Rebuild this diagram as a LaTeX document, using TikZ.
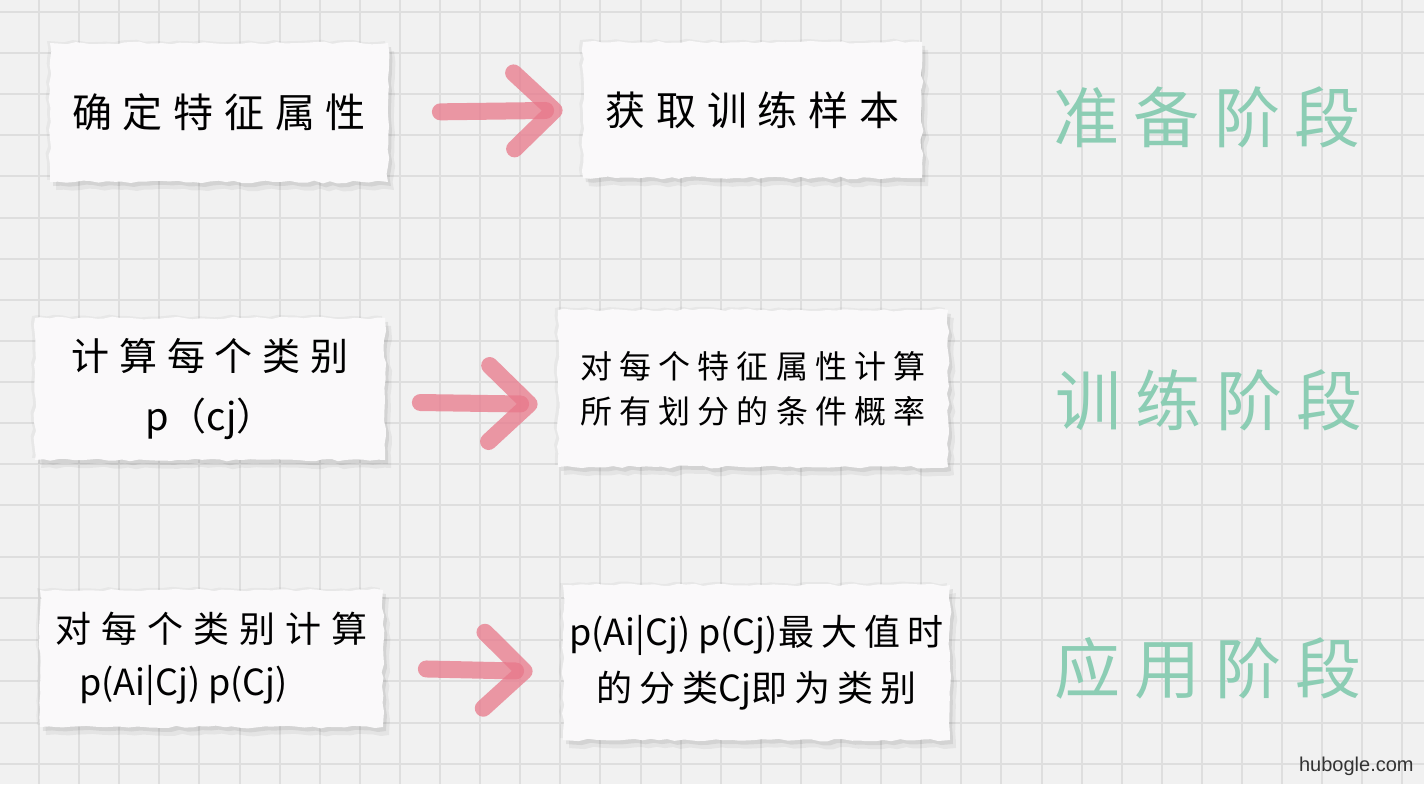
\documentclass[tikz,border=0pt]{standalone}
\usepackage{fontspec}
\newfontfamily\cjkfont{Noto Sans CJK SC}
\newfontfamily\webfont{Liberation Sans}
\usetikzlibrary{arrows.meta,decorations.pathmorphing}
\definecolor{bgcol}{RGB}{241,241,241}
\definecolor{gridcol}{RGB}{222,222,222}
\definecolor{papercol}{RGB}{250,249,250}
\definecolor{arrowcol}{RGB}{232,120,138}
\definecolor{phasecol}{RGB}{140,205,180}
\newcommand{\cjksize}[3]{\cjkfont\fontsize{#1}{#2}\selectfont\addfontfeatures{LetterSpace=#3}}
\newcommand{\lat}[1]{{\addfontfeatures{LetterSpace=0}#1}}

\begin{document}
\pgfmathsetseed{7}
\begin{tikzpicture}
  [x=0.5pt, y=-0.5pt,
  gridline/.style={draw=gridcol, line width=1pt},
  paper/.style={fill=papercol, inner sep=0pt, align=center, decorate,
    decoration={random steps, segment length=4pt, amplitude=0.7pt},
    preaction={fill=black, fill opacity=0.05,
      transform canvas={xshift=3pt, yshift=-4pt}},
    preaction={fill=black, fill opacity=0.07,
      transform canvas={xshift=1.5pt, yshift=-2pt}},
    preaction={fill=black, fill opacity=0.04,
      transform canvas={xshift=-1.5pt, yshift=1pt}}},
  pinkarrow/.style={draw=arrowcol, draw opacity=0.75, line width=8.5pt,
    line cap=round, -{Straight Barb[length=20pt, width=38pt, round]}},
  phase/.style={text=phasecol, font=\cjksize{33pt}{38pt}{22}}]
  \useasboundingbox[fill=bgcol] (0,0) rectangle (1424,784);
  \foreach \i in {0,...,34}
    \draw[gridline] ({39+40.1*\i},0) -- ({39+40.1*\i},784);
  \foreach \j in {0,...,12}
    \draw[gridline] (0,{12+41.1*\j}) -- (1424,{12+41.1*\j});
  \foreach \j in {0,...,5}
    \draw[gridline] (0,{557+41.4*\j}) -- (1424,{557+41.4*\j});

  \node[paper, minimum width=169pt, minimum height=69.5pt,
    font=\cjksize{20pt}{26pt}{27}] (b1) at (219,112.5) {确定特征属性};
  \node[paper, minimum width=169.5pt, minimum height=68pt,
    font=\cjksize{20pt}{26pt}{27}] (b2) at (752.5,110) {获取训练样本};
  \node[paper, minimum width=175pt, minimum height=71pt,
    font=\cjksize{19pt}{30pt}{26}] (b3) at (210,389)
    {计算每个类别\\\lat{p（cj）}};
  \node[paper, minimum width=195pt, minimum height=78.5pt,
    font=\cjksize{16pt}{22.5pt}{22}] (b4) at (753,388.5)
    {对每个特征属性计算\\所有划分的条件概率};
  \node[paper, minimum width=171.5pt, minimum height=68.5pt,
    font=\cjksize{18pt}{26.5pt}{28}] (b5) at (211.5,658.5)
    {对每个类别计算\\\lat{p(Ai|Cj) p(Cj)}\hspace*{28pt}};
  \node[paper, minimum width=193.5pt, minimum height=77.5pt,
    font=\cjksize{18pt}{28pt}{20}] (b6) at (756.5,662.5)
    {\lat{p(Ai|Cj) p(Cj)}最大值时\\的分类\lat{Cj}即为类别};

  \draw[pinkarrow, shorten <=26pt, shorten >=10pt] (b1.east) -- (b2.west);
  \draw[pinkarrow, shorten <=17.5pt, shorten >=10pt]
    ([yshift=-6.5pt]b3.east) -- ([yshift=-8pt]b4.west);
  \draw[pinkarrow, shorten <=21.5pt, shorten >=15pt]
    ([yshift=-4.75pt]b5.east) -- ([yshift=-4.75pt]b6.west);

  \node[phase] (p1) at (1207,117) {准备阶段};
  \node[phase] (p2) at (1209,400) {训练阶段};
  \node[phase] (p3) at (1208,668) {应用阶段};

  \node[font=\webfont\fontsize{10pt}{12pt}\selectfont, text=black!80,
    anchor=base east, inner sep=0pt] (mark) at (1414,771) {hubogle.com};
\end{tikzpicture}
\end{document}
